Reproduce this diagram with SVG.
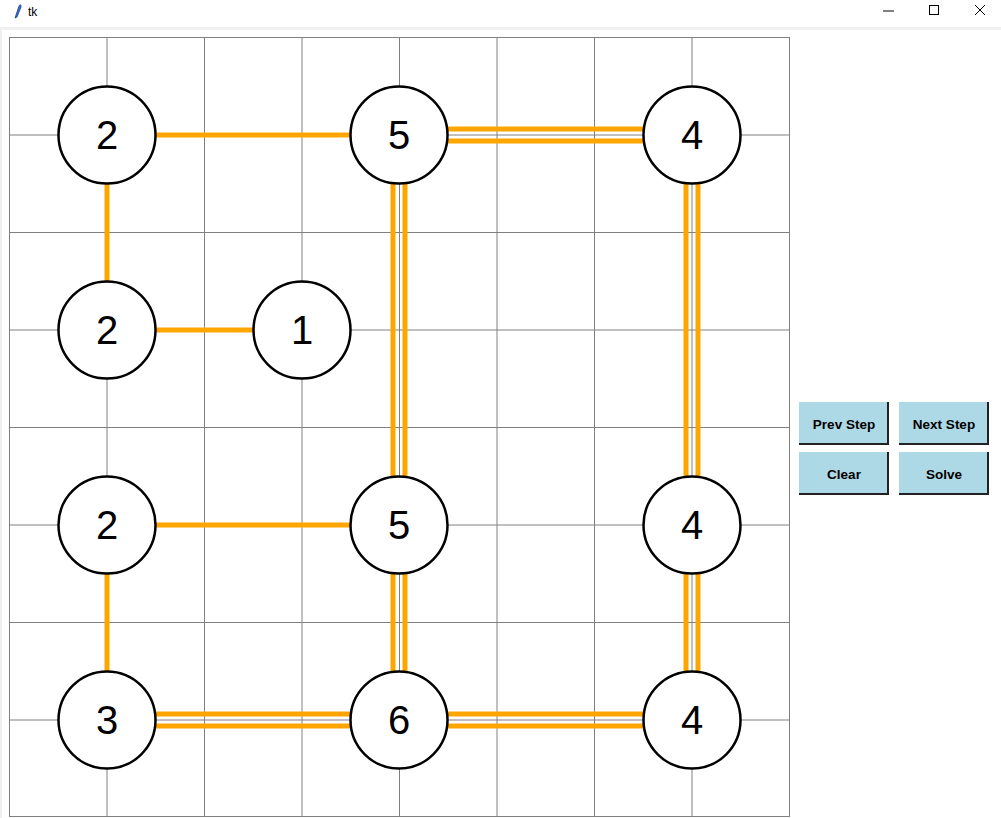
<svg xmlns="http://www.w3.org/2000/svg" width="1001" height="818" viewBox="0 0 1001 818">
<style>
.grid{stroke:#808080;stroke-width:1;fill:none}
.e{stroke:#ffa500;stroke-width:5;fill:none}
.n circle{fill:#fff;stroke:#000;stroke-width:2.5}
.n text{font-family:"Liberation Sans",Arial,sans-serif;font-size:40px;fill:#000;text-anchor:middle;dominant-baseline:central}
.btn rect{fill:#add8e6}
.btn path{stroke:#222;stroke-width:2;fill:none}
.btn text{font-family:"Liberation Sans",Arial,sans-serif;font-size:13.5px;font-weight:bold;fill:#000;text-anchor:middle}
</style>
<rect width="1001" height="818" fill="#fff"/>
<rect x="0" y="27" width="1001" height="3" fill="#f0f0f0"/>
<rect x="0" y="27" width="2" height="791" fill="#f0f0f0"/>
<g id="titlebar">
<path d="M15 18 L19 6 Q21 3 21 7 L17 17 Z" fill="#3a6fd8" stroke="#1a3f90" stroke-width="0.8"/>
<text x="28" y="16" font-family="'Segoe UI','Liberation Sans',sans-serif" font-size="12" fill="#000">tk</text>
<line x1="883" y1="11" x2="894" y2="11" stroke="#000" stroke-width="1"/>
<rect x="929.5" y="5.5" width="9" height="9" fill="none" stroke="#000" stroke-width="1"/>
<path d="M975 5 L985 15 M985 5 L975 15" stroke="#000" stroke-width="1"/>
</g>
<g id="grid" class="grid">
<rect x="9.5" y="37.5" width="780" height="779"/>
<path d="M107 37V817M204.5 37V817M302 37V817M399.5 37V817M497 37V817M594.5 37V817M692 37V817"/>
<path d="M9 135H790M9 232.5H790M9 330H790M9 427.5H790M9 525H790M9 622.5H790M9 720H790"/>
</g>
<g id="connectors">
<path class="e" d="M107 135H399"/>
<path class="e" d="M107 135V330"/>
<path class="e" d="M107 330H302"/>
<path class="e" d="M107 525H399"/>
<path class="e" d="M107 525V720"/>
<path class="e" d="M399 129H692M399 141H692"/>
<path class="e" d="M393 135V525M405 135V525"/>
<path class="e" d="M686 135V525M698 135V525"/>
<path class="e" d="M393 525V720M405 525V720"/>
<path class="e" d="M686 525V720M698 525V720"/>
<path class="e" d="M107 714H399M107 726H399"/>
<path class="e" d="M399 714H692M399 726H692"/>
</g>
<g id="n1" class="n"><circle cx="107" cy="135" r="48.5"/><text x="107" y="135">2</text></g>
<g id="n2" class="n"><circle cx="399" cy="135" r="48.5"/><text x="399" y="135">5</text></g>
<g id="n3" class="n"><circle cx="692" cy="135" r="48.5"/><text x="692" y="135">4</text></g>
<g id="n4" class="n"><circle cx="107" cy="330" r="48.5"/><text x="107" y="330">2</text></g>
<g id="n5" class="n"><circle cx="302" cy="330" r="48.5"/><text x="302" y="330">1</text></g>
<g id="n6" class="n"><circle cx="107" cy="525" r="48.5"/><text x="107" y="525">2</text></g>
<g id="n7" class="n"><circle cx="399" cy="525" r="48.5"/><text x="399" y="525">5</text></g>
<g id="n8" class="n"><circle cx="692" cy="525" r="48.5"/><text x="692" y="525">4</text></g>
<g id="n9" class="n"><circle cx="107" cy="720" r="48.5"/><text x="107" y="720">3</text></g>
<g id="n10" class="n"><circle cx="399" cy="720" r="48.5"/><text x="399" y="720">6</text></g>
<g id="n11" class="n"><circle cx="692" cy="720" r="48.5"/><text x="692" y="720">4</text></g>
<g id="btn-prev" class="btn"><rect x="799" y="402" width="90" height="43"/><path d="M799 444H888V402"/><text x="844" y="429">Prev Step</text></g>
<g id="btn-next" class="btn"><rect x="899" y="402" width="90" height="43"/><path d="M899 444H988V402"/><text x="944" y="429">Next Step</text></g>
<g id="btn-clear" class="btn"><rect x="799" y="452" width="90" height="43"/><path d="M799 494H888V452"/><text x="844" y="479">Clear</text></g>
<g id="btn-solve" class="btn"><rect x="899" y="452" width="90" height="43"/><path d="M899 494H988V452"/><text x="944" y="479">Solve</text></g>
</svg>
